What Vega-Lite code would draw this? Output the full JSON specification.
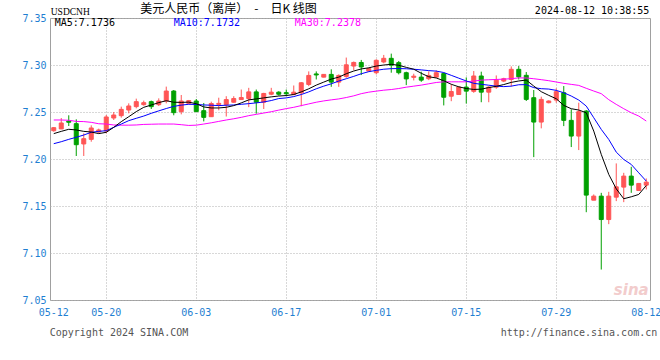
{
  "$schema": "https://vega.github.io/schema/vega-lite/v6.json",
  "width": 600,
  "height": 282,
  "autosize": {"type": "none"},
  "padding": {"left": 50, "top": 18, "right": 10, "bottom": 60},
  "background": "#ffffff",
  "config": {"view": {"stroke": "#a0a0a0", "strokeWidth": 1}, "font": "DejaVu Sans Mono"},
  "datasets": {
    "k": [
      {"date": "05-12", "open": 7.2301, "high": 7.2340, "low": 7.2290, "close": 7.2333, "ma5": 7.2270, "ma10": 7.2163, "ma30": 7.2415},
      {"date": "05-13", "open": 7.2320, "high": 7.2436, "low": 7.2318, "close": 7.2383, "ma5": 7.2294, "ma10": 7.2184, "ma30": 7.2415},
      {"date": "05-14", "open": 7.2403, "high": 7.2465, "low": 7.2351, "close": 7.2391, "ma5": 7.2316, "ma10": 7.2209, "ma30": 7.2412},
      {"date": "05-15", "open": 7.2376, "high": 7.2422, "low": 7.2032, "close": 7.2152, "ma5": 7.2309, "ma10": 7.2231, "ma30": 7.2400},
      {"date": "05-16", "open": 7.2160, "high": 7.2273, "low": 7.2032, "close": 7.2216, "ma5": 7.2294, "ma10": 7.2255, "ma30": 7.2398},
      {"date": "05-17", "open": 7.2209, "high": 7.2358, "low": 7.2184, "close": 7.2330, "ma5": 7.2287, "ma10": 7.2284, "ma30": 7.2390},
      {"date": "05-19", "open": 7.2287, "high": 7.2323, "low": 7.2273, "close": 7.2309, "ma5": 7.2270, "ma10": 7.2294, "ma30": 7.2375},
      {"date": "05-20", "open": 7.2298, "high": 7.2468, "low": 7.2273, "close": 7.2447, "ma5": 7.2284, "ma10": 7.2301, "ma30": 7.2372},
      {"date": "05-21", "open": 7.2436, "high": 7.2500, "low": 7.2415, "close": 7.2468, "ma5": 7.2337, "ma10": 7.2337, "ma30": 7.2362},
      {"date": "05-22", "open": 7.2461, "high": 7.2557, "low": 7.2440, "close": 7.2528, "ma5": 7.2397, "ma10": 7.2372, "ma30": 7.2360},
      {"date": "05-23", "open": 7.2521, "high": 7.2592, "low": 7.2486, "close": 7.2564, "ma5": 7.2450, "ma10": 7.2408, "ma30": 7.2360},
      {"date": "05-24", "open": 7.2557, "high": 7.2642, "low": 7.2539, "close": 7.2610, "ma5": 7.2504, "ma10": 7.2433, "ma30": 7.2362},
      {"date": "05-26", "open": 7.2578, "high": 7.2621, "low": 7.2567, "close": 7.2599, "ma5": 7.2550, "ma10": 7.2457, "ma30": 7.2368},
      {"date": "05-27", "open": 7.2610, "high": 7.2621, "low": 7.2532, "close": 7.2557, "ma5": 7.2574, "ma10": 7.2486, "ma30": 7.2370},
      {"date": "05-28", "open": 7.2578, "high": 7.2645, "low": 7.2564, "close": 7.2617, "ma5": 7.2600, "ma10": 7.2512, "ma30": 7.2372},
      {"date": "05-29", "open": 7.2617, "high": 7.2770, "low": 7.2592, "close": 7.2723, "ma5": 7.2620, "ma10": 7.2537, "ma30": 7.2372},
      {"date": "05-30", "open": 7.2723, "high": 7.2734, "low": 7.2465, "close": 7.2493, "ma5": 7.2604, "ma10": 7.2560, "ma30": 7.2372},
      {"date": "05-31", "open": 7.2504, "high": 7.2681, "low": 7.2475, "close": 7.2617, "ma5": 7.2602, "ma10": 7.2573, "ma30": 7.2365},
      {"date": "06-02", "open": 7.2592, "high": 7.2628, "low": 7.2582, "close": 7.2621, "ma5": 7.2605, "ma10": 7.2582, "ma30": 7.2357},
      {"date": "06-03", "open": 7.2617, "high": 7.2638, "low": 7.2500, "close": 7.2504, "ma5": 7.2588, "ma10": 7.2580, "ma30": 7.2360},
      {"date": "06-04", "open": 7.2514, "high": 7.2596, "low": 7.2400, "close": 7.2443, "ma5": 7.2554, "ma10": 7.2575, "ma30": 7.2372},
      {"date": "06-05", "open": 7.2450, "high": 7.2610, "low": 7.2447, "close": 7.2590, "ma5": 7.2543, "ma10": 7.2572, "ma30": 7.2385},
      {"date": "06-06", "open": 7.2581, "high": 7.2652, "low": 7.2518, "close": 7.2592, "ma5": 7.2543, "ma10": 7.2568, "ma30": 7.2400},
      {"date": "06-07", "open": 7.2579, "high": 7.2668, "low": 7.2452, "close": 7.2632, "ma5": 7.2550, "ma10": 7.2572, "ma30": 7.2415},
      {"date": "06-09", "open": 7.2604, "high": 7.2668, "low": 7.2597, "close": 7.2643, "ma5": 7.2568, "ma10": 7.2575, "ma30": 7.2428},
      {"date": "06-10", "open": 7.2632, "high": 7.2739, "low": 7.2632, "close": 7.2654, "ma5": 7.2597, "ma10": 7.2582, "ma30": 7.2443},
      {"date": "06-11", "open": 7.2643, "high": 7.2757, "low": 7.2552, "close": 7.2714, "ma5": 7.2629, "ma10": 7.2589, "ma30": 7.2461},
      {"date": "06-12", "open": 7.2714, "high": 7.2739, "low": 7.2482, "close": 7.2604, "ma5": 7.2639, "ma10": 7.2597, "ma30": 7.2475},
      {"date": "06-13", "open": 7.2604, "high": 7.2704, "low": 7.2532, "close": 7.2697, "ma5": 7.2650, "ma10": 7.2607, "ma30": 7.2489},
      {"date": "06-14", "open": 7.2689, "high": 7.2757, "low": 7.2679, "close": 7.2711, "ma5": 7.2661, "ma10": 7.2622, "ma30": 7.2503},
      {"date": "06-16", "open": 7.2711, "high": 7.2721, "low": 7.2675, "close": 7.2689, "ma5": 7.2670, "ma10": 7.2643, "ma30": 7.2520},
      {"date": "06-17", "open": 7.2706, "high": 7.2739, "low": 7.2668, "close": 7.2694, "ma5": 7.2675, "ma10": 7.2650, "ma30": 7.2536},
      {"date": "06-18", "open": 7.2686, "high": 7.2782, "low": 7.2679, "close": 7.2711, "ma5": 7.2686, "ma10": 7.2664, "ma30": 7.2550},
      {"date": "06-19", "open": 7.2704, "high": 7.2818, "low": 7.2561, "close": 7.2811, "ma5": 7.2714, "ma10": 7.2686, "ma30": 7.2568},
      {"date": "06-20", "open": 7.2793, "high": 7.2932, "low": 7.2775, "close": 7.2889, "ma5": 7.2747, "ma10": 7.2714, "ma30": 7.2586},
      {"date": "06-21", "open": 7.2905, "high": 7.2932, "low": 7.2846, "close": 7.2894, "ma5": 7.2786, "ma10": 7.2747, "ma30": 7.2604},
      {"date": "06-23", "open": 7.2871, "high": 7.2903, "low": 7.2868, "close": 7.2900, "ma5": 7.2818, "ma10": 7.2775, "ma30": 7.2618},
      {"date": "06-24", "open": 7.2900, "high": 7.2954, "low": 7.2768, "close": 7.2818, "ma5": 7.2850, "ma10": 7.2800, "ma30": 7.2629},
      {"date": "06-25", "open": 7.2818, "high": 7.2900, "low": 7.2768, "close": 7.2889, "ma5": 7.2871, "ma10": 7.2829, "ma30": 7.2639},
      {"date": "06-26", "open": 7.2878, "high": 7.3079, "low": 7.2864, "close": 7.3002, "ma5": 7.2907, "ma10": 7.2854, "ma30": 7.2654},
      {"date": "06-27", "open": 7.2989, "high": 7.3037, "low": 7.2945, "close": 7.3027, "ma5": 7.2936, "ma10": 7.2879, "ma30": 7.2672},
      {"date": "06-28", "open": 7.3027, "high": 7.3054, "low": 7.2893, "close": 7.2979, "ma5": 7.2958, "ma10": 7.2907, "ma30": 7.2695},
      {"date": "06-30", "open": 7.2936, "high": 7.2971, "low": 7.2929, "close": 7.2962, "ma5": 7.2970, "ma10": 7.2929, "ma30": 7.2711},
      {"date": "07-01", "open": 7.2918, "high": 7.3061, "low": 7.2900, "close": 7.3050, "ma5": 7.2989, "ma10": 7.2943, "ma30": 7.2722},
      {"date": "07-02", "open": 7.3032, "high": 7.3107, "low": 7.3018, "close": 7.3071, "ma5": 7.3000, "ma10": 7.2955, "ma30": 7.2732},
      {"date": "07-03", "open": 7.3071, "high": 7.3121, "low": 7.2918, "close": 7.2998, "ma5": 7.3007, "ma10": 7.2961, "ma30": 7.2739},
      {"date": "07-04", "open": 7.3025, "high": 7.3043, "low": 7.2900, "close": 7.2918, "ma5": 7.2997, "ma10": 7.2962, "ma30": 7.2750},
      {"date": "07-05", "open": 7.2918, "high": 7.2929, "low": 7.2786, "close": 7.2852, "ma5": 7.2975, "ma10": 7.2960, "ma30": 7.2764},
      {"date": "07-07", "open": 7.2869, "high": 7.2907, "low": 7.2836, "close": 7.2881, "ma5": 7.2955, "ma10": 7.2955, "ma30": 7.2775},
      {"date": "07-08", "open": 7.2871, "high": 7.2929, "low": 7.2821, "close": 7.2839, "ma5": 7.2912, "ma10": 7.2948, "ma30": 7.2786},
      {"date": "07-09", "open": 7.2854, "high": 7.2932, "low": 7.2839, "close": 7.2889, "ma5": 7.2875, "ma10": 7.2940, "ma30": 7.2800},
      {"date": "07-10", "open": 7.2871, "high": 7.2943, "low": 7.2864, "close": 7.2918, "ma5": 7.2862, "ma10": 7.2935, "ma30": 7.2814},
      {"date": "07-11", "open": 7.2909, "high": 7.2918, "low": 7.2570, "close": 7.2657, "ma5": 7.2832, "ma10": 7.2920, "ma30": 7.2821},
      {"date": "07-12", "open": 7.2668, "high": 7.2794, "low": 7.2615, "close": 7.2718, "ma5": 7.2795, "ma10": 7.2890, "ma30": 7.2821},
      {"date": "07-14", "open": 7.2686, "high": 7.2775, "low": 7.2686, "close": 7.2765, "ma5": 7.2768, "ma10": 7.2860, "ma30": 7.2821},
      {"date": "07-15", "open": 7.2765, "high": 7.2868, "low": 7.2590, "close": 7.2722, "ma5": 7.2750, "ma10": 7.2830, "ma30": 7.2821},
      {"date": "07-16", "open": 7.2720, "high": 7.2936, "low": 7.2704, "close": 7.2883, "ma5": 7.2740, "ma10": 7.2805, "ma30": 7.2829},
      {"date": "07-17", "open": 7.2883, "high": 7.2929, "low": 7.2604, "close": 7.2711, "ma5": 7.2743, "ma10": 7.2795, "ma30": 7.2839},
      {"date": "07-18", "open": 7.2711, "high": 7.2775, "low": 7.2604, "close": 7.2764, "ma5": 7.2760, "ma10": 7.2785, "ma30": 7.2843},
      {"date": "07-19", "open": 7.2764, "high": 7.2889, "low": 7.2747, "close": 7.2839, "ma5": 7.2773, "ma10": 7.2775, "ma30": 7.2846},
      {"date": "07-21", "open": 7.2829, "high": 7.2864, "low": 7.2818, "close": 7.2854, "ma5": 7.2792, "ma10": 7.2770, "ma30": 7.2850},
      {"date": "07-22", "open": 7.2846, "high": 7.2985, "low": 7.2772, "close": 7.2954, "ma5": 7.2815, "ma10": 7.2775, "ma30": 7.2854},
      {"date": "07-23", "open": 7.2954, "high": 7.2989, "low": 7.2846, "close": 7.2874, "ma5": 7.2830, "ma10": 7.2790, "ma30": 7.2863},
      {"date": "07-24", "open": 7.2890, "high": 7.2925, "low": 7.2617, "close": 7.2634, "ma5": 7.2840, "ma10": 7.2791, "ma30": 7.2862},
      {"date": "07-25", "open": 7.2652, "high": 7.2734, "low": 7.2020, "close": 7.2393, "ma5": 7.2776, "ma10": 7.2759, "ma30": 7.2854},
      {"date": "07-26", "open": 7.2393, "high": 7.2663, "low": 7.2326, "close": 7.2634, "ma5": 7.2716, "ma10": 7.2748, "ma30": 7.2844},
      {"date": "07-28", "open": 7.2599, "high": 7.2624, "low": 7.2592, "close": 7.2617, "ma5": 7.2677, "ma10": 7.2744, "ma30": 7.2833},
      {"date": "07-29", "open": 7.2627, "high": 7.2751, "low": 7.2599, "close": 7.2716, "ma5": 7.2641, "ma10": 7.2730, "ma30": 7.2819},
      {"date": "07-30", "open": 7.2705, "high": 7.2776, "low": 7.2350, "close": 7.2411, "ma5": 7.2570, "ma10": 7.2705, "ma30": 7.2805},
      {"date": "07-31", "open": 7.2411, "high": 7.2528, "low": 7.2127, "close": 7.2244, "ma5": 7.2535, "ma10": 7.2670, "ma30": 7.2794},
      {"date": "08-01", "open": 7.2244, "high": 7.2599, "low": 7.2095, "close": 7.2503, "ma5": 7.2521, "ma10": 7.2627, "ma30": 7.2783},
      {"date": "08-02", "open": 7.2510, "high": 7.2521, "low": 7.1434, "close": 7.1616, "ma5": 7.2492, "ma10": 7.2563, "ma30": 7.2752},
      {"date": "08-04", "open": 7.1562, "high": 7.1623, "low": 7.1562, "close": 7.1605, "ma5": 7.2297, "ma10": 7.2439, "ma30": 7.2723},
      {"date": "08-05", "open": 7.1605, "high": 7.1640, "low": 7.0824, "close": 7.1356, "ma5": 7.2049, "ma10": 7.2315, "ma30": 7.2695},
      {"date": "08-06", "open": 7.1356, "high": 7.1651, "low": 7.1307, "close": 7.1605, "ma5": 7.1836, "ma10": 7.2208, "ma30": 7.2631},
      {"date": "08-07", "open": 7.1594, "high": 7.1953, "low": 7.1552, "close": 7.1704, "ma5": 7.1683, "ma10": 7.2073, "ma30": 7.2581},
      {"date": "08-08", "open": 7.1701, "high": 7.1853, "low": 7.1541, "close": 7.1818, "ma5": 7.1577, "ma10": 7.1995, "ma30": 7.2535},
      {"date": "08-09", "open": 7.1818, "high": 7.1917, "low": 7.1640, "close": 7.1722, "ma5": 7.1598, "ma10": 7.1942, "ma30": 7.2492},
      {"date": "08-11", "open": 7.1665, "high": 7.1745, "low": 7.1662, "close": 7.1740, "ma5": 7.1623, "ma10": 7.1853, "ma30": 7.2457},
      {"date": "08-12", "open": 7.1722, "high": 7.1793, "low": 7.1676, "close": 7.1754, "ma5": 7.1718, "ma10": 7.1765, "ma30": 7.2404}
    ]
  },
  "data": {"name": "k"},
  "encoding": {
    "x": {
      "field": "date",
      "type": "ordinal",
      "sort": null,
      "scale": {
        "domain": ["05-12","05-13","05-14","05-15","05-16","05-17","05-19","05-20","05-21","05-22","05-23","05-24","05-26","05-27","05-28","05-29","05-30","05-31","06-02","06-03","06-04","06-05","06-06","06-07","06-09","06-10","06-11","06-12","06-13","06-14","06-16","06-17","06-18","06-19","06-20","06-21","06-23","06-24","06-25","06-26","06-27","06-28","06-30","07-01","07-02","07-03","07-04","07-05","07-07","07-08","07-09","07-10","07-11","07-12","07-14","07-15","07-16","07-17","07-18","07-19","07-21","07-22","07-23","07-24","07-25","07-26","07-28","07-29","07-30","07-31","08-01","08-02","08-04","08-05","08-06","08-07","08-08","08-09","08-11","08-12"],
        "paddingInner": 0,
        "paddingOuter": 0
      },
      "axis": {
        "values": ["05-12","05-20","06-03","06-17","07-01","07-15","07-29","08-12"],
        "title": null,
        "labelAngle": 0,
        "labelOverlap": false,
        "labelColor": "#1f7fd2",
        "labelFont": "DejaVu Sans Mono",
        "labelFontSize": 10,
        "labelPadding": 7,
        "labelBaseline": "top",
        "ticks": false,
        "domain": false,
        "grid": true,
        "bandPosition": 0.5,
        "gridColor": {"condition": {"test": "datum.value === '05-12' || datum.value === '08-12'", "value": "rgba(0,0,0,0)"}, "value": "#b0b0b0"},
        "gridDash": [1, 2],
        "gridWidth": 1
      }
    }
  },
  "layer": [
    {
      "mark": {"type": "rule", "strokeWidth": 1},
      "encoding": {
        "y": {
          "field": "low",
          "type": "quantitative",
          "scale": {"domain": [7.05, 7.35], "nice": false, "zero": false},
          "axis": {
            "values": [7.05, 7.1, 7.15, 7.2, 7.25, 7.3, 7.35],
            "format": ".2f",
            "title": null,
            "labelColor": "#1f7fd2",
            "labelFont": "DejaVu Sans Mono",
            "labelFontSize": 10,
            "labelPadding": 4,
            "ticks": false,
            "domain": false,
            "grid": true,
            "gridColor": "#b0b0b0",
            "gridDash": [1, 2],
            "gridWidth": 1
          }
        },
        "y2": {"field": "high"},
        "color": {"condition": {"test": "datum.close >= datum.open", "value": "#ff5555"}, "value": "#00a000"}
      }
    },
    {
      "mark": {"type": "bar", "size": 4, "strokeWidth": 1},
      "encoding": {
        "y": {"field": "open", "type": "quantitative"},
        "y2": {"field": "close"},
        "fill": {"condition": {"test": "datum.close >= datum.open", "value": "#ff5555"}, "value": "#00a000"},
        "stroke": {"condition": {"test": "datum.close >= datum.open", "value": "#ff5555"}, "value": "#00a000"}
      }
    },
    {
      "mark": {"type": "line", "color": "#ff00ff", "strokeWidth": 1},
      "encoding": {"y": {"field": "ma30", "type": "quantitative"}}
    },
    {
      "mark": {"type": "line", "color": "#0000ff", "strokeWidth": 1},
      "encoding": {"y": {"field": "ma10", "type": "quantitative"}}
    },
    {
      "mark": {"type": "line", "color": "#000000", "strokeWidth": 1},
      "encoding": {"y": {"field": "ma5", "type": "quantitative"}}
    },
    {
      "data": {"values": [{"t": "MA5:7.1736"}]},
      "mark": {"type": "text", "align": "left", "baseline": "middle", "font": "DejaVu Sans Mono", "fontSize": 10, "color": "#000000", "dx": 1},
      "encoding": {"x": {"datum": "05-12"}, "y": {"datum": 7.3443}, "text": {"field": "t"}}
    },
    {
      "data": {"values": [{"t": "MA10:7.1732"}]},
      "mark": {"type": "text", "align": "left", "baseline": "middle", "font": "DejaVu Sans Mono", "fontSize": 10, "color": "#0000ff", "dx": 0},
      "encoding": {"x": {"datum": "05-30"}, "y": {"datum": 7.3443}, "text": {"field": "t"}}
    },
    {
      "data": {"values": [{"t": "MA30:7.2378"}]},
      "mark": {"type": "text", "align": "left", "baseline": "middle", "font": "DejaVu Sans Mono", "fontSize": 10, "color": "#ff00ff", "dx": 1},
      "encoding": {"x": {"datum": "06-18"}, "y": {"datum": 7.3443}, "text": {"field": "t"}}
    },
    {
      "data": {"values": [{"t": "USDCNH"}]},
      "mark": {"type": "text", "align": "left", "baseline": "middle", "font": "Liberation Serif", "fontSize": 9.5, "color": "#000000", "dx": -3},
      "encoding": {"x": {"datum": "05-12"}, "y": {"datum": 7.3563}, "text": {"field": "t"}}
    },
    {
      "data": {"values": [{"t": "美元人民币（离岸）　-　日K  线图"}]},
      "mark": {"type": "text", "align": "left", "baseline": "middle", "font": "Noto Sans CJK SC", "fontSize": 12, "color": "#000000", "dx": 4},
      "encoding": {"x": {"datum": "05-24"}, "y": {"datum": 7.3595}, "text": {"field": "t"}}
    },
    {
      "data": {"values": [{"t": "2024-08-12 10:38:55"}]},
      "mark": {"type": "text", "align": "right", "baseline": "middle", "font": "DejaVu Sans Mono", "fontSize": 10, "color": "#000000", "dx": 3},
      "encoding": {"x": {"datum": "08-12"}, "y": {"datum": 7.3572}, "text": {"field": "t"}}
    },
    {
      "data": {"values": [{"t": "Copyright 2024 SINA.COM"}]},
      "mark": {"type": "text", "align": "left", "baseline": "middle", "font": "DejaVu Sans Mono", "fontSize": 10, "color": "#555555", "dx": -4},
      "encoding": {"x": {"datum": "05-12"}, "y": {"datum": 7.0151}, "text": {"field": "t"}}
    },
    {
      "data": {"values": [{"t": "http://finance.sina.com.cn"}]},
      "mark": {"type": "text", "align": "right", "baseline": "middle", "font": "DejaVu Sans Mono", "fontSize": 10, "color": "#555555", "dx": 11},
      "encoding": {"x": {"datum": "08-12"}, "y": {"datum": 7.0151}, "text": {"field": "t"}}
    },
    {
      "data": {"values": [{"t": "sina"}]},
      "mark": {"type": "text", "align": "center", "baseline": "middle", "font": "DejaVu Sans", "fontSize": 15, "fontStyle": "italic", "fontWeight": "bold", "color": "#f2cccc"},
      "encoding": {"x": {"datum": "08-09"}, "y": {"datum": 7.0605}, "text": {"field": "t"}}
    }
  ]
}
